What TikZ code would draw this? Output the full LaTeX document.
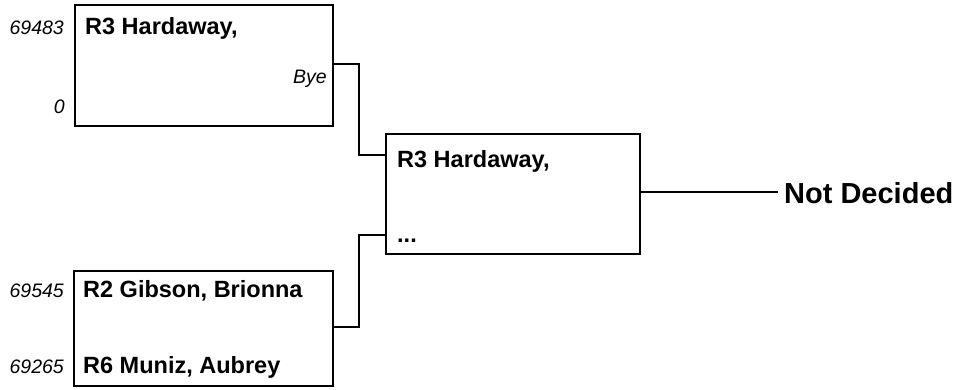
\documentclass[tikz,border=0pt]{standalone}
\usepackage{fontspec}
\setmainfont{Liberation Sans}
\begin{document}
\begin{tikzpicture}[x=1pt,y=-1pt,
  playerbox/.style={draw,line width=1.5pt,rectangle,inner sep=0pt},
  conn/.style={line width=1.5pt},
  nametext/.style={font=\fontsize{23.5}{26}\selectfont\bfseries,inner sep=0pt,anchor=base west},
  seedtext/.style={font=\fontsize{19.5}{22}\selectfont\itshape,inner sep=0pt,anchor=base east},
  resulttext/.style={font=\fontsize{29}{32}\selectfont\bfseries,inner sep=0pt,inner xsep=6pt,anchor=base west}]
\useasboundingbox (0,0) rectangle (959,389);
% boxes
\node[playerbox,minimum width=258pt,minimum height=121pt] (b1) at (204,65.5) {};
\node[playerbox,minimum width=259pt,minimum height=115pt] (b2) at (203.5,328.5) {};
\node[playerbox,minimum width=254pt,minimum height=120pt] (b3) at (513,194) {};
% box 1 texts
\node[seedtext] (s1) at (64,34) {69483};
\node[nametext] (n1) at (85,34) {R3 Hardaway,};
\node[seedtext] (bye) at (327,83) {Bye};
\node[seedtext] (s0) at (65,113) {0};
% box 2 texts
\node[seedtext] (s2) at (64,297) {69545};
\node[nametext] (n2) at (83,297) {R2 Gibson, Brionna};
\node[seedtext] (s3) at (64,373) {69265};
\node[nametext] (n3) at (83,373) {R6 Muniz, Aubrey};
% middle box texts
\node[nametext] (n4) at (397,167) {R3 Hardaway,};
\node[nametext] (dots) at (397,242) {...};
% result
\node[resulttext] (nd) at (778,203) {Not Decided};
% connectors
\draw[conn] (b1.east |- 0,64) -- (359,64) |- (b3.west |- 0,155);
\draw[conn] (b2.east |- 0,327) -- (359,327) |- (b3.west |- 0,235);
\draw[conn] (b3.east |- 0,192) -- (nd.west |- 0,192);
\end{tikzpicture}
\end{document}
